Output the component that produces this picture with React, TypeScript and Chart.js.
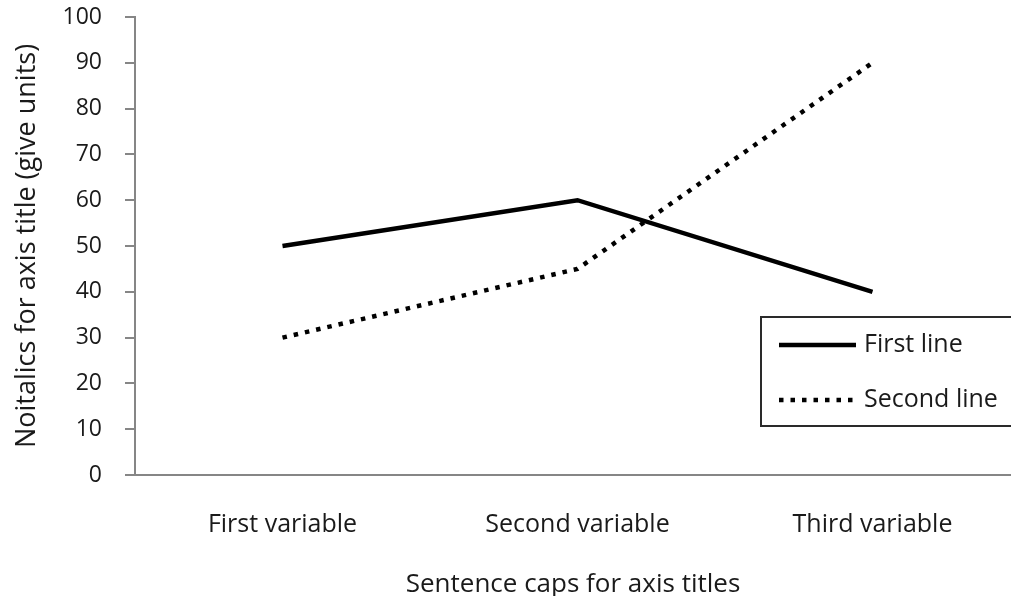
import React, { useEffect, useRef } from "react";
import { Chart, registerables } from "chart.js";

Chart.register(...registerables);

const categories = ["First variable", "Second variable", "Third variable"];
const firstLine = [50, 60, 40];
const secondLine = [30, 45, 90];
const seriesNames = ["First line", "Second line"];
const yTitle = "Noitalics for axis title (give units)";
const xTitle = "Sentence caps for axis titles";

const FONT = "'Open Sans', Lato, sans-serif";
const TEXT = "#1a1a1a";
const AXIS = "#868686";

const boxLegend = {
  id: "boxLegend",
  afterDraw(chart: any) {
    const { ctx } = chart;
    const left = 761;
    const top = 317;
    const w = 270;
    const h = 109;
    ctx.save();
    ctx.fillStyle = "#ffffff";
    ctx.fillRect(left, top, w, h);
    ctx.strokeStyle = "#2a2a2a";
    ctx.lineWidth = 2;
    ctx.strokeRect(left, top, w, h);
    const rows = [345, 400];
    chart.data.datasets.forEach((ds: any, i: number) => {
      const y = rows[i];
      ctx.beginPath();
      ctx.strokeStyle = ds.borderColor;
      ctx.lineWidth = ds.borderWidth;
      ctx.setLineDash(ds.borderDash || []);
      ctx.lineCap = "butt";
      ctx.moveTo(779, y);
      ctx.lineTo(856, y);
      ctx.stroke();
      ctx.setLineDash([]);
      ctx.fillStyle = TEXT;
      ctx.font = `25px ${FONT}`;
      ctx.textBaseline = "middle";
      ctx.textAlign = "left";
      ctx.fillText(ds.label, 864, y);
    });
    ctx.restore();
  },
};

export default function App() {
  const ref = useRef<HTMLCanvasElement>(null);
  useEffect(() => {
    if (!ref.current) return;
    const chart = new Chart(ref.current, {
      type: "line",
      data: {
        datasets: [
          {
            label: seriesNames[0],
            data: firstLine.map((v, i) => ({ x: i, y: v })),
            borderColor: "#000000",
            borderWidth: 4.5,
            pointRadius: 0,
            tension: 0,
            borderJoinStyle: "miter",
          },
          {
            label: seriesNames[1],
            data: secondLine.map((v, i) => ({ x: i, y: v })),
            borderColor: "#000000",
            borderWidth: 4.5,
            borderDash: [4.5, 7],
            pointRadius: 0,
            tension: 0,
            borderJoinStyle: "miter",
          },
        ],
      },
      options: {
        animation: false,
        responsive: true,
        maintainAspectRatio: false,
        layout: { padding: { top: 17, left: 0, right: 0, bottom: 0 } },
        plugins: { legend: { display: false }, tooltip: { enabled: false } },
        scales: {
          x: {
            type: "linear",
            min: -0.5,
            max: -0.5 + 876 / 295,
            afterBuildTicks: (scale: any) => {
              scale.ticks = categories.map((_, i) => ({ value: i }));
            },
            afterFit: (scale: any) => {
              scale.height = 121;
              scale.paddingLeft = 0;
              scale.paddingRight = 0;
            },
            border: { display: true, color: AXIS, width: 2 },
            grid: { display: false, drawTicks: false },
            ticks: {
              callback: (v: any) => categories[v] ?? "",
              font: { family: FONT, size: 25 },
              color: TEXT,
              padding: 35,
              maxRotation: 0,
              autoSkip: false,
            },
            title: {
              display: true,
              text: xTitle,
              font: { family: FONT, size: 26, lineHeight: 0.85 },
              color: TEXT,
              padding: { top: 0, bottom: 0 },
            },
          },
          y: {
            min: 0,
            max: 100,
            afterFit: (scale: any) => {
              scale.width = 135;
              scale.paddingTop = 0;
              scale.paddingBottom = 0;
            },
            border: { display: true, color: AXIS, width: 2 },
            grid: {
              drawOnChartArea: false,
              drawTicks: true,
              tickLength: 10,
              color: AXIS,
              lineWidth: 2,
            },
            ticks: {
              stepSize: 10,
              font: { family: FONT, size: 23 },
              color: TEXT,
              padding: 23,
            },
            title: {
              display: true,
              text: yTitle,
              font: { family: FONT, size: 27, lineHeight: 1 },
              color: TEXT,
              padding: { top: 14, bottom: 0 },
            },
          },
        },
      },
      plugins: [boxLegend],
    });
    return () => chart.destroy();
  }, []);
  return (
    <div style={{ position: "fixed", left: 0, top: 0, width: "1011px", height: "596px", background: "#fff" }}>
      <canvas ref={ref} />
    </div>
  );
}
